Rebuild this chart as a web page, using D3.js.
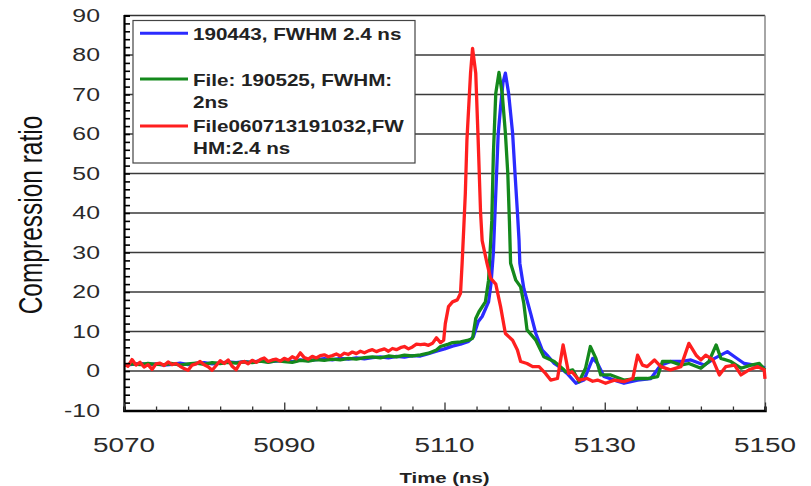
<!DOCTYPE html>
<html><head><meta charset="utf-8">
<script src="https://cdn.jsdelivr.net/npm/d3@7"></script>
<style>body{margin:0;background:#fff}svg{display:block}</style>
</head><body>
<svg id="c" width="811" height="486"></svg>
<script>
// ---- data ----
const xTicksMajor = [5070, 5090, 5110, 5130, 5150];
const yTicksMajor = [-10, 0, 10, 20, 30, 40, 50, 60, 70, 80, 90];
const seriesNames = ["190443, FWHM 2.4 ns", "File: 190525, FWHM:\n2ns", "File060713191032,FW\nHM:2.4 ns"];

const blueSeries = [[5070,1.4],[5071,1.7],[5072,1.9],[5073,1.6],[5074,1.8],[5075,1.5],[5076,1.7],[5077,2.0],[5078,1.6],[5079,1.9],[5080,2.1],[5081,1.8],[5082,2.0],[5083,2.3],[5084,2.1],[5085,2.4],[5086,2.2],[5087,2.6],[5088,2.3],[5089,2.5],[5090,2.7],[5091,2.4],[5092,2.8],[5093,2.6],[5094,2.9],[5095,3.1],[5096,2.8],[5097,3.2],[5098,3.0],[5099,3.3],[5100,3.1],[5101,3.4],[5102,3.6],[5103,3.3],[5104,3.7],[5105,3.5],[5106,3.9],[5107,3.8],[5108,4.4],[5109,5.0],[5110,5.6],[5111,6.3],[5112,6.8],[5113,7.5],[5113.6,8.7],[5114.2,12.5],[5114.7,13.8],[5115.5,17.5],[5115.8,22],[5116.1,30],[5116.4,45],[5116.7,60],[5117,66.9],[5117.3,73],[5117.6,75.4],[5118.0,70.3],[5118.5,60.2],[5118.8,50],[5119.1,40.2],[5119.3,33.2],[5119.4,27.3],[5119.9,20.9],[5120.75,14.6],[5121.4,9.5],[5122.2,5.3],[5122.8,4],[5123.7,1.9],[5124.3,1.1],[5125.3,-0.6],[5126.4,-3.1],[5127.4,-2.3],[5128.5,3.2],[5129.1,1.9],[5129.9,-1.4],[5131.2,-2.3],[5132.4,-3.1],[5134.1,-2.3],[5135.75,-1.9],[5137,1.5],[5138.25,2.4],[5139.5,2.4],[5140.75,2.8],[5142.4,1.5],[5143.7,3.2],[5145.3,4.9],[5146.2,3.6],[5147.4,1.9],[5148.7,1.5],[5150,0.8]];

const greenSeries = [[5070,1.5],[5071,1.8],[5072,1.6],[5073,1.9],[5074,1.7],[5075,1.6],[5076,1.9],[5077,1.5],[5078,1.8],[5079,2.0],[5080,1.7],[5081,2.1],[5082,1.9],[5083,2.2],[5084,2.0],[5085,2.3],[5086,2.1],[5087,2.5],[5088,2.2],[5089,2.6],[5090,2.4],[5091,2.2],[5092,2.7],[5093,2.5],[5094,2.9],[5095,2.7],[5096,3.0],[5097,2.8],[5098,3.2],[5099,3.0],[5100,3.4],[5101,3.6],[5102,3.3],[5103,3.8],[5104,3.6],[5105,4.0],[5106,3.8],[5107,4.1],[5108,4.5],[5109,5.3],[5109.5,6.2],[5110.5,6.8],[5111,7.2],[5112,7.4],[5113,7.8],[5113.5,8.3],[5113.9,13.3],[5114.3,15],[5115.1,17.5],[5115.5,23],[5115.9,38],[5116.1,55],[5116.4,70.3],[5116.8,75.6],[5117.2,70.3],[5117.6,60.2],[5117.9,50],[5118.1,38],[5118.25,27.3],[5118.9,23],[5119.5,21.3],[5119.9,17.1],[5120.3,10.4],[5121.4,7.8],[5122.4,3.6],[5123.7,2.4],[5124.9,0.3],[5125.1,-0.2],[5126,0.3],[5126.8,-2.7],[5127.6,0.7],[5128.2,6.2],[5128.9,3.2],[5129.5,-1],[5130.75,-1],[5132.4,-2.3],[5134.1,-1.9],[5135.3,-1.9],[5136.6,-1.4],[5137.2,2.4],[5138.25,2.4],[5139.5,1.5],[5140.5,1.9],[5142,0.7],[5143,2.4],[5143.9,6.6],[5144.5,3.2],[5145.75,2.4],[5147,0.7],[5148.25,1.5],[5149.3,1.9],[5150,0.3]];

const redSeries = [[5070,1.8],[5070.5,1.2],[5071,2.9],[5071.5,1.5],[5072,2.2],[5072.5,1.0],[5073,1.6],[5073.5,0.4],[5074,1.8],[5074.5,2.0],[5075,1.4],[5075.5,2.3],[5076,1.6],[5076.5,1.9],[5077,1.2],[5077.5,0.6],[5078,0.2],[5078.5,1.5],[5079,1.8],[5079.5,2.4],[5080,1.6],[5080.5,1.1],[5081,0.2],[5081.5,1.4],[5082,2.6],[5082.5,1.9],[5083,2.8],[5083.5,1.2],[5084,0.3],[5084.5,2.1],[5085,2.4],[5085.5,1.8],[5086,2.7],[5086.5,2.2],[5087,2.9],[5087.5,3.3],[5088,2.4],[5088.5,2.8],[5089,3.0],[5089.5,2.5],[5090,3.2],[5090.5,2.8],[5091,3.6],[5091.5,3.1],[5092,4.6],[5092.5,3.4],[5093,3.0],[5093.5,3.7],[5094,3.3],[5094.5,3.9],[5095,4.1],[5095.5,3.6],[5096,3.9],[5096.5,4.3],[5097,3.8],[5097.5,4.5],[5098,4.2],[5098.5,4.8],[5099,4.4],[5099.5,5.0],[5100,4.6],[5100.5,5.1],[5101,5.4],[5101.5,4.9],[5102,5.3],[5102.5,5.6],[5103,5.0],[5103.5,5.7],[5104,5.4],[5104.5,5.9],[5105,6.2],[5105.5,5.6],[5106,6.1],[5106.5,6.8],[5107,6.7],[5107.5,6.8],[5108,6.5],[5108.5,7.0],[5109,8.4],[5109.5,7.2],[5109.9,7.8],[5110.1,12],[5110.5,16.3],[5111,17.5],[5111.6,18],[5112,19.7],[5112.2,27.3],[5112.4,36],[5112.6,45],[5112.8,58.5],[5113.25,75.4],[5113.5,81.7],[5113.9,75.4],[5114.2,58.5],[5114.5,40.2],[5114.7,33],[5115.3,27.3],[5115.75,23.5],[5116.4,22],[5117,16.3],[5117.6,9.5],[5118.5,7.8],[5119.1,5.3],[5119.5,2.4],[5120.3,1.9],[5121,1.1],[5121.8,1.1],[5122.6,-0.6],[5123.25,-2.3],[5124.1,-1.9],[5124.8,6.6],[5125.5,-0.6],[5125.9,-0.2],[5126.8,-2.3],[5127.8,-1.9],[5128.5,-2.6],[5129.1,-2.3],[5130.1,-3.1],[5131.2,-2.3],[5132.4,-2.7],[5133.5,-1.9],[5134.1,4],[5134.7,1.5],[5135.3,1.1],[5136.2,2.8],[5137,1.1],[5138.2,0.3],[5139.5,1.1],[5140.5,7],[5141.4,4],[5142,2.8],[5142.6,4],[5143.5,2.8],[5144.3,-1],[5145.1,1.1],[5146.2,1.5],[5147,-1],[5148,0.3],[5149.1,1.1],[5149.9,0.3],[5150,-2.0]];

const seriesColors = ["#2b2bff", "#14891c", "#ff1f1f"];

// ---- layout ----
const svg = d3.select("#c");
const L = 124, R = 765, T = 15.5, B = 410.5;
const x = d3.scaleLinear().domain([5070, 5150]).range([L, R]);
const y = d3.scaleLinear().domain([-10, 90]).range([B, T]);

function stext(g, px, py, str, o) {
  return g.append("text")
    .attr("transform", `translate(${px},${py}) scale(${o.sx||1},1)` + (o.rot ? ` rotate(${o.rot})` : ""))
    .attr("text-anchor", o.anchor || "start")
    .attr("font-family", "Liberation Sans, Arial, sans-serif")
    .attr("font-size", o.size)
    .attr("font-weight", o.weight || "normal")
    .attr("fill", o.fill || "#222")
    .text(str);
}

// gridlines
svg.append("g").selectAll("line").data(yTicksMajor.filter(v => v > -10))
  .join("line")
  .attr("x1", L).attr("x2", R)
  .attr("y1", d => y(d)).attr("y2", d => y(d))
  .attr("stroke", d => d === 90 ? "#333" : "#3a3a3a").attr("stroke-width", 1.3);

// right border
svg.append("line").attr("x1", R).attr("x2", R).attr("y1", T).attr("y2", B)
  .attr("stroke", "#888").attr("stroke-width", 1.5);

// series
const line = d3.line().x(d => x(d[0])).y(d => y(d[1]));
svg.append("defs").append("clipPath").attr("id", "clip")
  .append("rect").attr("x", L).attr("y", T - 5).attr("width", R - L + 3).attr("height", B - T + 5);
const plot = svg.append("g").attr("clip-path", "url(#clip)");
[blueSeries, greenSeries, redSeries].forEach((s, i) => {
  plot.append("path").datum(s).attr("d", line)
    .attr("fill", "none").attr("stroke", seriesColors[i])
    .attr("stroke-width", 3.3).attr("stroke-linejoin", "round");
});

// y axis (ticks inside)
const yAxis = d3.axisRight(y).tickValues(d3.range(-10, 91, 2)).tickSize(6).tickFormat("");
const ga = svg.append("g").attr("transform", `translate(${L},0)`).call(yAxis);
ga.select(".domain").attr("stroke", "#000").attr("stroke-width", 2.2);
ga.selectAll(".tick line").attr("stroke", "#000").attr("stroke-width", 1.6);

// x axis (ticks inside)
const xAxis = d3.axisTop(x).tickValues(d3.range(5070, 5151, 4)).tickSize(4).tickFormat("");
const gx = svg.append("g").attr("transform", `translate(0,${B})`).call(xAxis);
gx.select(".domain").attr("stroke", "#000").attr("stroke-width", 2.5);
gx.selectAll(".tick line").attr("stroke", "#333").attr("stroke-width", 1.3)
  .attr("y2", d => (d - 5070) % 20 === 0 ? -8 : -4);

// tick labels
yTicksMajor.forEach(v => stext(svg, 100, y(v) + 6.3, String(v), {size: 17.5, sx: 1.42, anchor: "end", fill: "#2a2a2a"}));
xTicksMajor.forEach(v => stext(svg, x(v), 451.5, String(v), {size: 21, sx: 1.33, anchor: "middle", fill: "#2a2a2a"}));

// axis titles
stext(svg, 42, 215, "Compression ratio", {size: 24.5, sx: 1.32, rot: -90, anchor: "middle", fill: "#111"});
stext(svg, 444.5, 483, "Time (ns)", {size: 15, sx: 1.36, anchor: "middle", weight: "bold", fill: "#222"});

// legend
const lg = svg.append("g");
lg.append("rect").attr("x", 133).attr("y", 20.5).attr("width", 282).attr("height", 142.5)
  .attr("fill", "#fff").attr("stroke", "#444").attr("stroke-width", 1.2);
const legendRows = [
  {ly: 33.3, lines: [[40, seriesNames[0].split("\n")[0]]]},
  {ly: 79, lines: [[85.5, seriesNames[1].split("\n")[0]], [107.5, seriesNames[1].split("\n")[1]]]},
  {ly: 126, lines: [[131.5, seriesNames[2].split("\n")[0]], [154, seriesNames[2].split("\n")[1]]]}
];
legendRows.forEach((r, i) => {
  lg.append("line").attr("x1", 140).attr("x2", 188).attr("y1", r.ly).attr("y2", r.ly)
    .attr("stroke", seriesColors[i]).attr("stroke-width", 3);
  r.lines.forEach(([by, t]) => stext(lg, 193, by, t, {size: 16.5, sx: 1.25, weight: "bold", fill: "#222"}));
});
</script>
</body></html>
